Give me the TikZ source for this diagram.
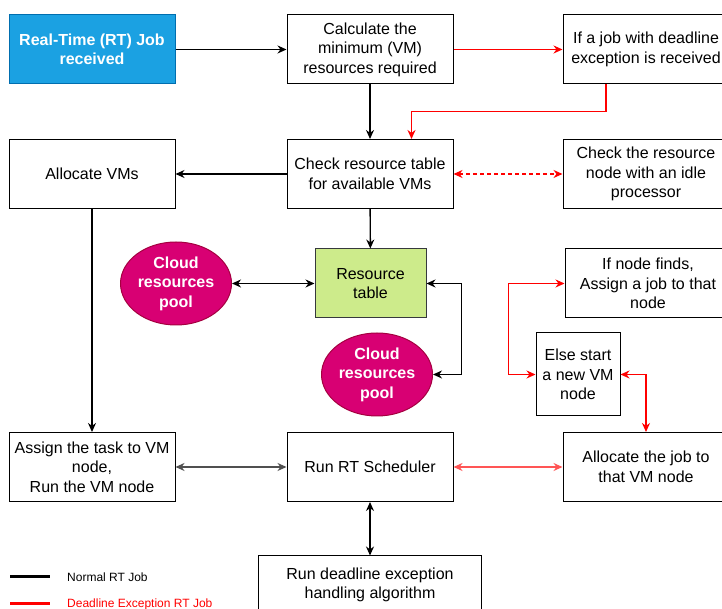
\documentclass[tikz,border=0pt]{standalone}
\usepackage{fontspec}
\setmainfont{Liberation Sans}
\usetikzlibrary{arrows.meta,shapes.geometric}

\begin{document}
\begin{tikzpicture}[x=1pt,y=1pt,
  box/.style={draw=black,line width=1pt,fill=white,minimum width=166,minimum height=69,inner sep=1pt,align=center,font=\fontsize{16}{19.5}\selectfont},
  jobbox/.style={box,draw=jobBorder,fill=jobFill,text=white,font=\fontsize{16}{19.5}\selectfont\bfseries},
  tablebox/.style={box,draw=tableBorder,fill=tableFill,minimum width=111},
  poolnode/.style={ellipse,draw=poolBorder,fill=poolFill,line width=1pt,minimum width=111,minimum height=83,inner sep=0pt,align=center,text=white,font=\fontsize{16}{19.5}\selectfont\bfseries},
  legendtext/.style={anchor=west,inner sep=0pt,font=\fontsize{12}{14}\selectfont},
  tip/.tip={Stealth[length=9pt,width=8pt]},
  arr/.style={-tip,line width=1.4pt},
  darr/.style={tip-tip,line width=1.4pt}]
\definecolor{jobFill}{RGB}{27,161,226}
\definecolor{jobBorder}{RGB}{0,110,175}
\definecolor{tableFill}{RGB}{205,235,139}
\definecolor{tableBorder}{RGB}{54,57,61}
\definecolor{poolFill}{RGB}{216,0,115}
\definecolor{poolBorder}{RGB}{165,0,64}
\definecolor{excColor}{RGB}{255,0,0}
\definecolor{lightExc}{RGB}{255,85,85}
\definecolor{linkGray}{RGB}{80,80,80}
\path[use as bounding box,fill=white] (0,0) rectangle (722,609);

% first row
\node[jobbox] (rt) at (92,559.5) {Real-Time (RT) Job\\received};
\node[box] (calc) at (370,559.5) {Calculate the\\minimum (VM)\\resources required};
\node[box] (exc) at (646,559.5) {If a job with deadline\\exception is received};

% second row
\node[box] (alloc) at (92,435) {Allocate VMs};
\node[box] (check) at (370,435) {Check resource table\\for available VMs};
\node[box] (idle) at (646,435) {Check the resource\\node with an idle\\processor};

% resources
\node[poolnode] (poolA) at (176,325.5) {Cloud\\resources\\pool};
\node[tablebox] (rtable) at (370.5,325.5) {Resource\\table};
\node[poolnode] (poolB) at (377,234.5) {Cloud\\resources\\pool};
\node[box] (found) at (648,325.5) {If node finds,\\Assign a job to that\\node};
\node[box,minimum width=84,minimum height=83] (newvm) at (578,234.5) {Else start\\a new VM\\node};

% last rows
\node[box] (assign) at (92,142) {Assign the task to VM\\node,\\Run the VM node};
\node[box] (sched) at (370,142) {Run RT Scheduler};
\node[box] (jobvm) at (646,142) {Allocate the job to\\that VM node};
\node[box,minimum width=223,minimum height=58] (handle) at (370,24) {Run deadline exception\\handling algorithm};

\draw[arr] (rt) -- (calc);
\draw[arr,excColor] (calc) -- (exc);
\draw[arr] (calc) -- (check);
\draw[arr,excColor] ([xshift=-40pt]exc.south) -- ++(0,-27) -| ([xshift=41.5pt]check.north);
\draw[arr] (check) -- (alloc);
\draw[darr,excColor,dash pattern=on 4pt off 3pt] (check) -- (idle);
\draw[arr] (check) -- (rtable);
\draw[arr] (alloc) -- (assign);
\draw[darr] (poolA) -- (rtable);
\draw[darr] (rtable.east) -- ++(35,0) |- (poolB.east);
\draw[darr,excColor] (found.west) -- ++(-56,0) |- (newvm.west);
\draw[darr,excColor] (newvm.east) -| (jobvm.north);
\draw[darr,linkGray] (assign) -- (sched);
\draw[darr,lightExc] (sched) -- (jobvm);
\draw[darr] (sched) -- (handle);

% legend
\coordinate (normalA) at (10,32);
\coordinate (normalB) at (50,32);
\coordinate (excA) at (10,5);
\coordinate (excB) at (50,5);
\draw[line width=3pt] (normalA) -- (normalB);
\draw[line width=3pt,excColor] (excA) -- (excB);
\node[legendtext] (normalText) at (67,32) {Normal RT Job};
\node[legendtext,text=excColor] (excText) at (67,5) {Deadline Exception RT Job};
\end{tikzpicture}
\end{document}
